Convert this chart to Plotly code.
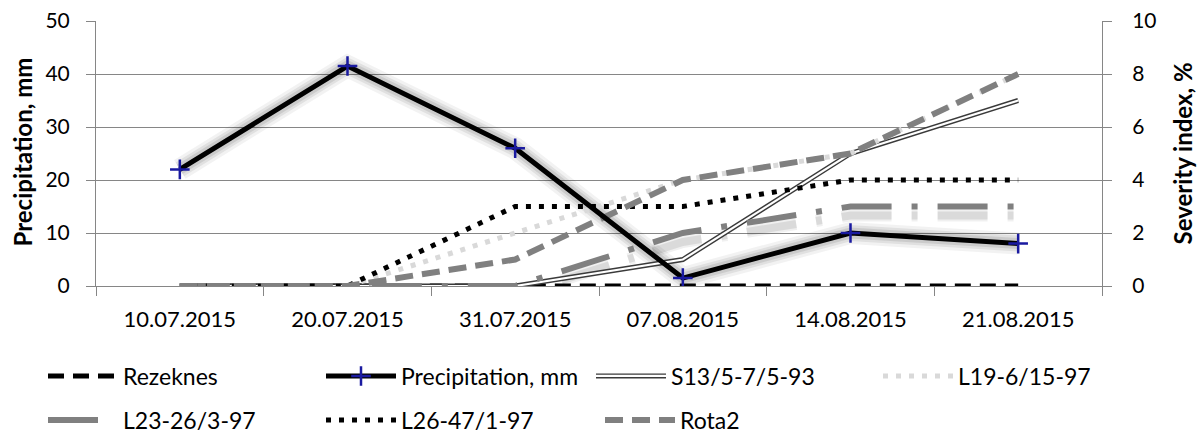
import plotly.graph_objects as go

# Sampling dates
dates = ["10.07.2015", "20.07.2015", "31.07.2015", "07.08.2015", "14.08.2015", "21.08.2015"]

# Precipitation, mm (left axis)
precipitation = [22, 41.5, 26, 1.5, 10, 8]

# Severity index, % (right axis)
rezeknes = [0, 0, 0, 0, 0, 0]
s13 = [0, 0, 0, 1, 5, 7]
l19 = [0, 0, 2, 4, 5, 8]
l23 = [0, 0, 0, 2, 3, 3]
l26 = [0, 0, 3, 3, 4, 4]
rota2 = [0, 0, 1, 4, 5, 8]

FONT = "Lato"
GRID = "#868686"

fig = go.Figure()

# soft glow behind the precipitation line
for w, a in [(22, 0.05), (16, 0.07), (11, 0.09)]:
    fig.add_trace(go.Scatter(x=dates, y=precipitation, mode="lines", yaxis="y",
                             line=dict(color=f"rgba(0,0,0,{a})", width=w),
                             showlegend=False, hoverinfo="skip"))

# shadow below the L23 line (axis shifted a few pixels)
for w, a in [(12, 0.06), (8, 0.09)]:
    fig.add_trace(go.Scatter(x=dates, y=l23, mode="lines", yaxis="y2",
                             line=dict(color=f"rgba(0,0,0,{a})", width=w, dash="50px,20px,6px,20px"),
                             showlegend=False, hoverinfo="skip"))

# severity series on the right axis
fig.add_trace(go.Scatter(x=dates, y=rezeknes, mode="lines", name="Rezeknes", yaxis="y3",
                         line=dict(color="black", width=5, dash="16px,9px"), legend="legend"))
fig.add_trace(go.Scatter(x=dates, y=s13, mode="lines", name="S13/5-7/5-93", yaxis="y3",
                         line=dict(color="#3a3a3a", width=5), legend="legend3"))
fig.add_trace(go.Scatter(x=dates, y=s13, mode="lines", name=" ", yaxis="y3",
                         line=dict(color="white", width=2.2), legend="legend8", hoverinfo="skip"))
fig.add_trace(go.Scatter(x=dates, y=l19, mode="lines", name="L19-6/15-97", yaxis="y3",
                         line=dict(color="#d9d9d9", width=5, dash="5px,8px"), legend="legend4"))
fig.add_trace(go.Scatter(x=dates, y=l23, mode="lines", name="L23-26/3-97", yaxis="y3",
                         line=dict(color="#808080", width=6, dash="50px,20px,6px,20px"), legend="legend5"))
fig.add_trace(go.Scatter(x=dates, y=l26, mode="lines", name="L26-47/1-97", yaxis="y3",
                         line=dict(color="black", width=5, dash="5px,8px"), legend="legend6"))
fig.add_trace(go.Scatter(x=dates, y=rota2, mode="lines", name="Rota2", yaxis="y3",
                         line=dict(color="#808080", width=6, dash="18px,9px"), legend="legend7"))

# precipitation on top
fig.add_trace(go.Scatter(x=dates, y=precipitation, mode="lines+markers", name="Precipitation, mm",
                         yaxis="y4",
                         line=dict(color="black", width=5),
                         marker=dict(symbol="cross-thin", size=14, line=dict(color="#1a1aa0", width=2.5)),
                         legend="legend2"))

PX_PER_PCT = 265 / 10
shift_s = 9 / PX_PER_PCT

legend_common = dict(font=dict(family=FONT, size=23, color="black"), bgcolor="rgba(0,0,0,0)",
                     xref="container", yref="container", xanchor="left", yanchor="middle",
                     itemwidth=70, orientation="v")

def leg(px, py):
    d = dict(legend_common)
    d["x"] = px / 1200
    d["y"] = 1 - py / 436
    return d

row = [376, 420]

fig.update_layout(
    width=1200, height=436,
    margin=dict(l=96, r=98, t=21, b=150, autoexpand=False),
    paper_bgcolor="white", plot_bgcolor="white",
    font=dict(family=FONT, size=21, color="black"),
    xaxis=dict(type="category", range=[-0.5, 5.5], showgrid=False, showline=True, linecolor=GRID,
               ticks="outside", tickson="boundaries", ticklen=9, tickcolor=GRID,
               tickfont=dict(family=FONT, size=22), ticklabelstandoff=14, zeroline=False),
    yaxis=dict(range=[0, 50], dtick=10, showgrid=True, gridcolor=GRID, gridwidth=1.3, showline=True,
               linecolor=GRID, ticks="outside", ticklen=9, tickcolor=GRID, zeroline=False,
               tickfont=dict(family=FONT, size=21), ticklabelstandoff=12),
    yaxis2=dict(overlaying="y", range=[shift_s, 10 + shift_s], showticklabels=False, showgrid=False,
                zeroline=False, showline=False, ticks=""),
    yaxis3=dict(overlaying="y", side="right", range=[0, 10], dtick=2, showgrid=False, showline=True,
                linecolor=GRID, ticks="outside", ticklen=9, tickcolor=GRID, zeroline=False,
                tickfont=dict(family=FONT, size=21), ticklabelstandoff=16),
    yaxis4=dict(overlaying="y", range=[0, 50], showticklabels=False, showgrid=False,
                zeroline=False, showline=False, ticks=""),
    legend=leg(43, row[0]),
    legend2=leg(321, row[0]),
    legend3=leg(591, row[0]),
    legend4=leg(878, row[0]),
    legend5=leg(43, row[1]),
    legend6=leg(321, row[1]),
    legend7=leg(600, row[1]),
    legend8=leg(591, row[0]),
    annotations=[
        dict(text="<b>Precipitation, mm</b>", textangle=-90, xref="paper", yref="paper",
             x=0, y=0.5, xshift=-74, yshift=1, xanchor="center", yanchor="middle", showarrow=False,
             font=dict(family=FONT, size=24, color="black")),
        dict(text="<b>Severity index, %</b>", textangle=-90, xref="paper", yref="paper",
             x=1, y=0.5, xshift=80, yshift=0, xanchor="center", yanchor="middle", showarrow=False,
             font=dict(family=FONT, size=24, color="black")),
    ],
)

fig.write_html("out.html")
